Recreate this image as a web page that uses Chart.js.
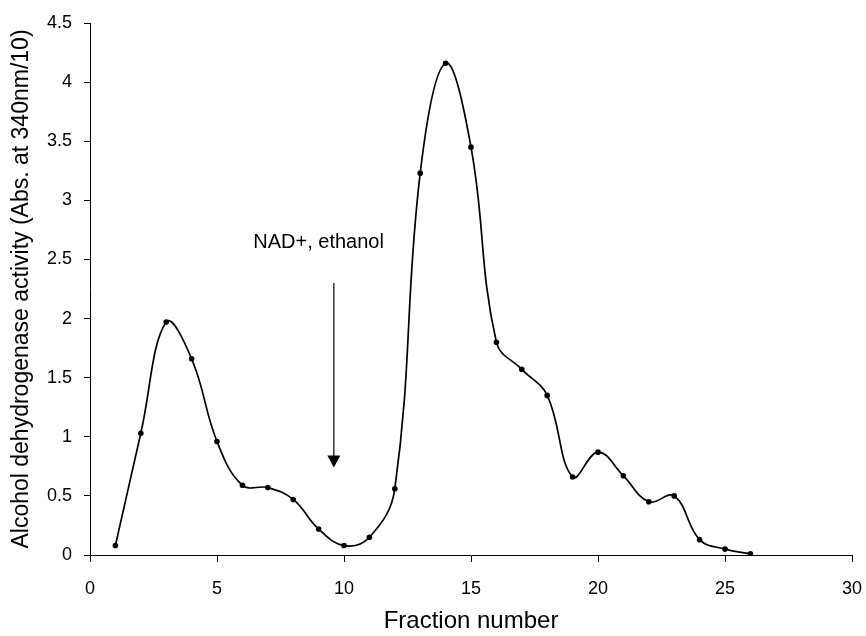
<!DOCTYPE html>
<html>
<head>
    <meta charset="UTF-8">
    <title>Alcohol dehydrogenase activity</title>
    <style>
        body { margin: 0; background: #fff; }
        #wrap { width: 866px; height: 636px; }
    </style>
</head>
<body>
<div id="wrap"><canvas id="myChart" width="866" height="636"></canvas></div>
<script src="https://cdn.jsdelivr.net/npm/chart.js@4.4.0/dist/chart.umd.min.js"></script>
<script>
    // fractions and measured activity (Abs. at 340nm / 10)
    var fractions = [1, 2, 3, 4, 5, 6, 7, 8, 9, 10, 11, 12, 13, 14, 15, 16, 17, 18, 19, 20, 21, 22, 23, 24, 25, 26];
    var activity  = [0.08, 1.03, 1.97, 1.66, 0.96, 0.59, 0.57, 0.47, 0.22, 0.08, 0.15, 0.56, 3.23, 4.16, 3.45, 1.80,
                     1.57, 1.35, 0.66, 0.87, 0.67, 0.45, 0.50, 0.13, 0.05, 0.01];
    // arrow marking when NAD+ and ethanol were added
    var arrowAt = { x: 9.6, yTop: 2.30, yTip: 0.74, labelX: 9.0, labelY: 2.64, label: 'NAD+, ethanol' };

    var font = "'Liberation Sans', Arial, sans-serif";

    var arrowPlugin = {
        id: 'arrow',
        afterDatasetsDraw: function(chart) {
            var ctx = chart.ctx;
            var xs = chart.scales.x, ys = chart.scales.y;
            var px = xs.getPixelForValue(arrowAt.x);
            var top = ys.getPixelForValue(arrowAt.yTop);
            var tip = ys.getPixelForValue(arrowAt.yTip);
            ctx.save();
            ctx.strokeStyle = '#000';
            ctx.fillStyle = '#000';
            ctx.lineWidth = 1.2;
            ctx.beginPath();
            ctx.moveTo(px, top);
            ctx.lineTo(px, tip - 10);
            ctx.stroke();
            ctx.beginPath();
            ctx.moveTo(px - 6.5, tip - 12);
            ctx.lineTo(px + 6.5, tip - 12);
            ctx.lineTo(px, tip);
            ctx.closePath();
            ctx.fill();
            ctx.font = '20px ' + font;
            ctx.textAlign = 'center';
            ctx.textBaseline = 'middle';
            ctx.fillText(arrowAt.label, xs.getPixelForValue(arrowAt.labelX), ys.getPixelForValue(arrowAt.labelY));
            ctx.restore();
        }
    };

    var points = fractions.map(function(f, i) { return { x: f, y: activity[i] }; });

    new Chart(document.getElementById('myChart').getContext('2d'), {
        type: 'line',
        data: {
            datasets: [{
                data: points,
                borderColor: '#000',
                backgroundColor: '#000',
                borderWidth: 1.7,
                pointRadius: 2.8,
                pointBackgroundColor: '#000',
                pointBorderWidth: 0,
                tension: 0.4,
                fill: false
            }]
        },
        options: {
            responsive: false,
            animation: false,
            layout: { padding: { top: 23, right: 14, left: 0, bottom: 0 } },
            plugins: { legend: { display: false }, tooltip: { enabled: false } },
            scales: {
                x: {
                    type: 'linear',
                    min: 0, max: 30,
                    border: { color: '#000', width: 1 },
                    grid: { drawOnChartArea: false, tickLength: 7, color: '#000' },
                    ticks: { stepSize: 5, color: '#000', font: { family: font, size: 18 }, padding: 16 },
                    title: { display: true, text: 'Fraction number', color: '#000', font: { family: font, size: 24 }, padding: { top: 0, bottom: 0 } },
                    afterFit: function(s) { s.height = 81; s.paddingRight = 0; }
                },
                y: {
                    min: 0, max: 4.5,
                    border: { color: '#000', width: 1 },
                    grid: { drawOnChartArea: false, tickLength: 6, color: '#000' },
                    ticks: {
                        stepSize: 0.5, color: '#000', font: { family: font, size: 18 }, padding: 12,
                        callback: function(v) { return String(Number(v)); }
                    },
                    title: { display: true, text: 'Alcohol dehydrogenase activity (Abs. at 340nm/10)', color: '#000', font: { family: font, size: 23 }, padding: { top: 8, bottom: 0 } },
                    afterFit: function(s) { s.width = 90; }
                }
            }
        },
        plugins: [arrowPlugin]
    });
</script>
</body>
</html>
